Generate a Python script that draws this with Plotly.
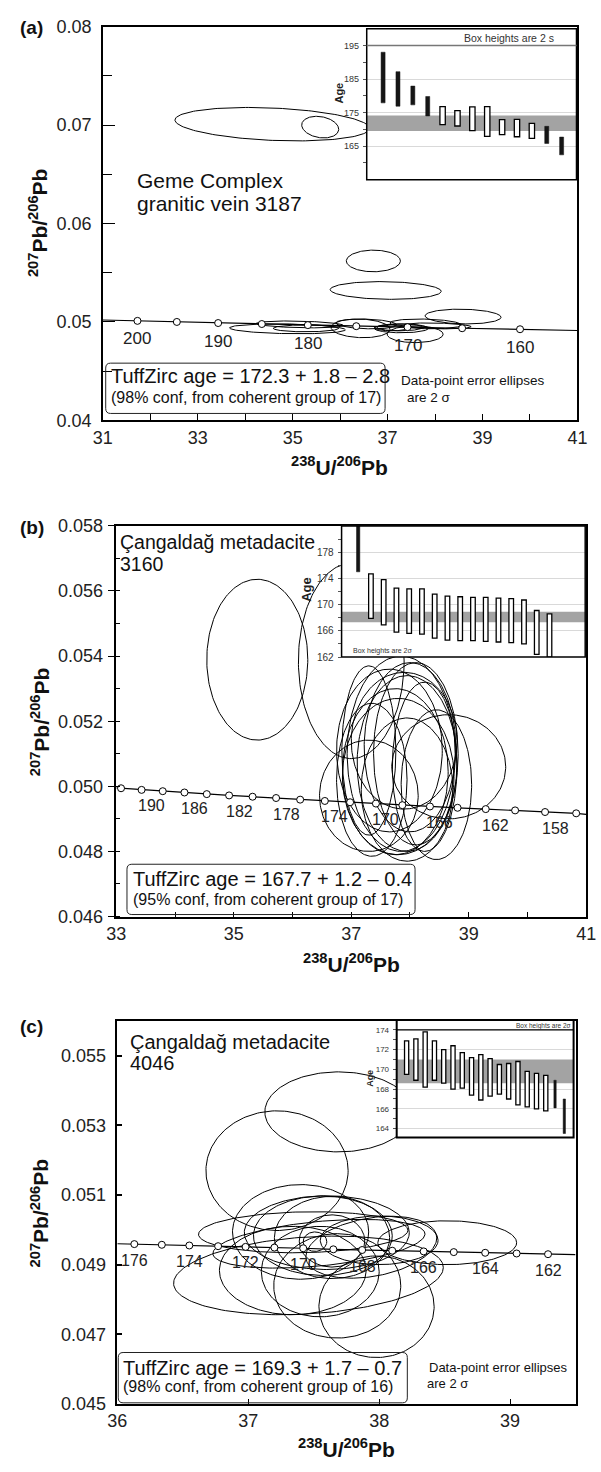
import numpy as np
import plotly.graph_objects as go

W, H = 601, 1472
FONT = "Liberation Sans, Arial, sans-serif"

# ================= DATA =================
# ---- panel (a) : Geme Complex granitic vein 3187 ----
a_conc_age = [200, 195, 190, 185, 180, 175, 170, 165, 160]
a_conc_x = [31.73, 32.56, 33.43, 34.35, 35.32, 36.34, 37.42, 38.57, 39.79]
a_conc_y = [0.05011, 0.05000, 0.04989, 0.04979, 0.04968, 0.04957, 0.04947, 0.04936, 0.04926]
a_conc_lbl = [200, 190, 180, 170, 160]
a_curve_end_x = [31.0, 41.0]
a_curve_end_y = [0.05020, 0.04913]
a_ell_cx = [34.57, 35.58, 36.70, 36.96, 38.59, 34.89, 35.28, 35.15, 36.43, 37.29, 37.58, 37.80, 37.09, 37.26, 38.05, 36.55]
a_ell_sx = [2.05, 0.39, 0.57, 1.17, 0.80, 1.22, 0.69, 0.92, 0.62, 0.57, 0.59, 0.75, 0.37, 0.48, 0.71, 0.64]
a_ell_cy = [0.0701, 0.0698, 0.0562, 0.0532, 0.05055, 0.0493, 0.04935, 0.04975, 0.04935, 0.04935, 0.04875, 0.0498, 0.0494, 0.04945, 0.0496, 0.0498]
a_ell_sy = [0.0017, 0.0011, 0.0011, 0.0009, 0.00075, 0.0005, 0.00035, 0.00035, 0.00095, 0.00045, 0.00085, 0.0005, 0.0003, 0.00035, 0.0003, 0.0005]
a_ell_rho = [-0.25, -0.2, 0.0, -0.1, -0.1, -0.2, 0.0, -0.3, -0.1, 0.0, 0.0, -0.2, 0.0, 0.0, -0.3, -0.2]
a_box_hi = [193.0, 187.2, 182.9, 179.8, 176.8, 175.6, 176.7, 176.8, 172.9, 173.0, 171.8, 170.9, 167.7]
a_box_lo = [177.9, 176.9, 177.3, 174.0, 171.4, 171.0, 169.6, 167.9, 168.4, 167.8, 167.3, 165.8, 162.4]
a_box_filled = [1, 1, 1, 1, 0, 0, 0, 0, 0, 0, 0, 1, 1]
a_band = [169.5, 174.1]
a_inset_ticks = [165, 175, 185, 195]
a_inset_minor = [160, 170, 180, 190]

# ---- panel (b) : Cangaldag metadacite 3160 ----
b_conc_age = [192, 190, 188, 186, 184, 182, 180, 178, 176, 174, 172, 170, 168, 166, 164, 162, 160, 158, 156]
b_conc_x = [33.08, 33.43, 33.79, 34.16, 34.54, 34.92, 35.32, 35.72, 36.13, 36.55, 36.98, 37.42, 37.87, 38.34, 38.81, 39.29, 39.79, 40.30, 40.83]
b_conc_y = [0.04994, 0.04989, 0.04985, 0.04981, 0.04976, 0.04972, 0.04968, 0.04964, 0.04959, 0.04955,
            0.04951, 0.04947, 0.04942, 0.04938, 0.04934, 0.04930, 0.04926, 0.04921, 0.04917]
b_conc_lbl = [190, 186, 182, 178, 174, 170, 166, 162, 158]
b_curve_end_x = [33.0, 41.0]
b_curve_end_y = [0.04995, 0.04914]
b_ell_cx = [35.40, 37.00, 37.30, 38.66, 37.95, 37.75, 37.85, 37.95, 37.80, 38.25, 37.65, 38.00, 37.35, 38.45, 38.10, 37.90, 37.30]
b_ell_sx = [0.86, 0.90, 0.84, 0.97, 0.78, 0.90, 0.92, 0.85, 0.95, 0.55, 0.90, 0.78, 0.60, 0.60, 0.72, 0.90, 0.46]
b_ell_cy = [0.05389, 0.05385, 0.04971, 0.05060, 0.04990, 0.05045, 0.05100, 0.05070, 0.05030, 0.05060, 0.05110, 0.05120, 0.05020, 0.05005, 0.05100, 0.05140, 0.05110]
b_ell_sy = [0.00247, 0.00300, 0.00171, 0.00160, 0.00220, 0.00255, 0.00300, 0.00270, 0.00240, 0.00260, 0.00250, 0.00260, 0.00235, 0.00230, 0.00280, 0.00210, 0.00260]
b_ell_rho = [0.0] * 17
b_box_hi = [186.0, 174.7, 173.8, 172.5, 172.4, 172.4, 171.6, 171.3, 171.2, 171.1, 171.1, 171.0, 170.9, 170.7, 169.1, 168.6]
b_box_lo = [175.0, 167.9, 166.9, 165.8, 165.6, 165.5, 164.9, 164.6, 164.5, 164.5, 164.4, 164.3, 164.2, 164.0, 162.4, 162.0]
b_box_filled = [1, 0, 0, 0, 0, 0, 0, 0, 0, 0, 0, 0, 0, 0, 0, 0]
b_band = [167.3, 168.9]
b_inset_ticks = [162, 166, 170, 174, 178]
b_inset_minor = [164, 168, 172, 176, 180]

# ---- panel (c) : Cangaldag metadacite 4046 ----
c_conc_age = [176, 175, 174, 173, 172, 171, 170, 169, 168, 167, 166, 165, 164, 163, 162]
c_conc_x = [36.13, 36.34, 36.55, 36.77, 36.98, 37.20, 37.42, 37.65, 37.87, 38.10, 38.34, 38.57, 38.81, 39.05, 39.29]
c_conc_y = [0.04959, 0.04957, 0.04955, 0.04953, 0.04951, 0.04949, 0.04947, 0.04944, 0.04942, 0.04940,
            0.04938, 0.04936, 0.04934, 0.04932, 0.04930]
c_conc_lbl = [176, 174, 172, 170, 168, 166, 164, 162]
c_curve_end_x = [36.0, 39.5]
c_curve_end_y = [0.04960, 0.04929]
c_ell_cx = [37.69, 37.22, 37.42, 37.46, 38.52, 37.98, 37.68, 37.34, 37.40, 37.60, 37.57, 37.64, 37.64, 37.51, 37.94, 37.54, 38.00, 37.55]
c_ell_sx = [0.563, 0.543, 0.80, 1.03, 0.53, 0.44, 0.485, 0.56, 0.52, 0.63, 0.53, 0.44, 0.25, 0.09, 0.50, 0.81, 0.45, 0.45]
c_ell_cy = [0.05339, 0.0517, 0.04993, 0.04869, 0.04963, 0.04779, 0.04839, 0.04883, 0.04994, 0.04992, 0.04983, 0.04978, 0.04968, 0.04966, 0.0495, 0.0496, 0.0497, 0.0488]
c_ell_sy = [0.00115, 0.00172, 0.00059, 0.00113, 0.00063, 0.00146, 0.0015, 0.00127, 0.00136, 0.00106, 0.00114, 0.00118, 0.00075, 0.00028, 0.00089, 0.0007, 0.0007, 0.0013]
c_ell_rho = [0.0, 0.0, 0.1, 0.2, 0.0, 0.0, 0.0, 0.0, 0.0, 0.0, 0.0, 0.0, 0.0, 0.0, 0.3, 0.4, 0.0, 0.0]
c_box_hi = [172.9, 173.1, 173.8, 172.9, 172.0, 172.4, 171.7, 171.2, 171.5, 171.1, 170.5, 170.6, 170.8, 169.8, 169.6, 169.4, 168.9, 167.0]
c_box_lo = [169.5, 168.9, 168.2, 168.9, 168.6, 168.0, 168.1, 167.4, 166.9, 167.3, 167.5, 167.0, 166.4, 166.2, 166.0, 165.8, 166.1, 163.5]
c_box_filled = [0, 0, 0, 0, 0, 0, 0, 0, 0, 0, 0, 0, 0, 0, 0, 0, 1, 1]
c_band = [168.6, 171.0]
c_inset_ticks = [164, 166, 168, 170, 172, 174]
c_inset_minor = [165, 167, 169, 171, 173]

# ================= HELPERS =================
def dom_x(p0, p1):
    return [p0 / W, p1 / W]


def dom_y(p_top, p_bot):
    return [1 - p_bot / H, 1 - p_top / H]


fig = go.Figure()


def add_ellipses(cxs, sxs, cys, sys_, rhos, xa, ya):
    X, Y = [], []
    t = np.linspace(0, 2 * np.pi, 181)
    for cx, sx, cy, sy, r in zip(cxs, sxs, cys, sys_, rhos):
        x = cx + sx * np.cos(t)
        y = cy + sy * (r * np.cos(t) + np.sqrt(1 - r * r) * np.sin(t))
        X += list(x) + [None]
        Y += list(y) + [None]
    fig.add_trace(go.Scatter(x=X, y=Y, mode="lines", line=dict(color="black", width=1),
                             xaxis=xa, yaxis=ya, hoverinfo="skip", showlegend=False))


def add_concordia(ages, cx_, cy_, endx, endy, lbls, xa, ya, msize, dx, dy, lfs):
    xs = [endx[0]] + list(cx_) + [endx[1]]
    ys = [endy[0]] + list(cy_) + [endy[1]]
    fig.add_trace(go.Scatter(x=xs, y=ys, mode="lines", line=dict(color="black", width=1.2),
                             xaxis=xa, yaxis=ya, hoverinfo="skip", showlegend=False))
    fig.add_trace(go.Scatter(x=cx_, y=cy_, mode="markers",
                             marker=dict(size=msize, color="white", line=dict(color="black", width=1)),
                             xaxis=xa, yaxis=ya, hoverinfo="skip", showlegend=False))
    for age in lbls:
        i = ages.index(age)
        fig.add_annotation(x=cx_[i], y=cy_[i], xref=xa, yref=ya, text=str(age), showarrow=False,
                           xshift=dx, yshift=dy, font=dict(family=FONT, size=lfs, color="#222"))


def add_inset(lo, hi, filled, band, xa, ya, xr, yr, w_open, w_fill):
    idx = list(range(1, len(lo) + 1))
    fig.add_shape(type="rect", xref=xa, yref=ya, x0=xr[0], x1=xr[1], y0=yr[0], y1=yr[1],
                  fillcolor="white", line=dict(width=0), layer="below")
    fig.add_shape(type="rect", xref=xa, yref=ya, x0=xr[0], x1=xr[1], y0=band[0], y1=band[1],
                  fillcolor="#a3a3a3", line=dict(width=0), layer="between")
    oi = [i for i, f in zip(idx, filled) if not f]
    ol = [l for l, f in zip(lo, filled) if not f]
    oh = [h - l for l, h, f in zip(lo, hi, filled) if not f]
    fi = [i for i, f in zip(idx, filled) if f]
    fl = [l for l, f in zip(lo, filled) if f]
    fh = [h - l for l, h, f in zip(lo, hi, filled) if f]
    if oi:
        fig.add_trace(go.Bar(x=oi, y=oh, base=ol, width=w_open,
                             marker=dict(color="white", line=dict(color="black", width=1.3)),
                             xaxis=xa, yaxis=ya, hoverinfo="skip", showlegend=False))
    if fi:
        fig.add_trace(go.Bar(x=fi, y=fh, base=fl, width=w_fill,
                             marker=dict(color="#151515", line=dict(color="#151515", width=0.5)),
                             xaxis=xa, yaxis=ya, hoverinfo="skip", showlegend=False))


def ann(text, px, py, size, xanchor="left", bold=False, angle=0, color="#111"):
    if bold:
        text = "<b>" + text + "</b>"
    fig.add_annotation(x=px / W, y=1 - py / H, xref="paper", yref="paper", text=text,
                       showarrow=False, xanchor=xanchor, yanchor="middle", textangle=angle,
                       font=dict(family=FONT, size=size, color=color))


def rrect(x0, y0, x1, y1, r):
    P = lambda x, y: f"{x / W:.5f},{1 - y / H:.5f}"
    return ("M" + P(x0 + r, y0) + " L" + P(x1 - r, y0) + " Q" + P(x1, y0) + " " + P(x1, y0 + r) +
            " L" + P(x1, y1 - r) + " Q" + P(x1, y1) + " " + P(x1 - r, y1) +
            " L" + P(x0 + r, y1) + " Q" + P(x0, y1) + " " + P(x0, y1 - r) +
            " L" + P(x0, y0 + r) + " Q" + P(x0, y0) + " " + P(x0 + r, y0) + " Z")


def main_axis(dom, rng, tick0, dtick, mdtick, ticks, tlen, mticks, mtlen, fmt=None, tfs=18, standoff=None, tw=1.2):
    d = dict(domain=dom, range=rng, tick0=tick0, dtick=dtick, ticks=ticks, ticklen=tlen,
             tickwidth=tw, tickcolor="black", showline=True, linecolor="black", linewidth=1.5,
             mirror=True, showgrid=False, zeroline=False,
             tickfont=dict(family=FONT, size=tfs, color="#222"))
    if mdtick:
        d["minor"] = dict(tick0=tick0, dtick=mdtick, ticks=mticks, ticklen=mtlen,
                          tickwidth=1.2, tickcolor="black", showgrid=False)
    if fmt:
        d["tickformat"] = fmt
    if standoff is not None:
        d["ticklabelstandoff"] = standoff
    return d


def inset_x(dom, rng):
    return dict(domain=dom, range=rng, showgrid=False, showticklabels=False, ticks="",
                zeroline=False, showline=False)


def inset_y(dom, rng, tv, mv, tfs):
    return dict(domain=dom, range=rng, tickvals=tv, ticks="outside", ticklen=3, tickwidth=1,
                tickcolor="#555", minor=dict(tickvals=mv, ticks="outside", ticklen=3, tickcolor="#555"),
                showgrid=True, gridcolor="#d9d9d9", gridwidth=1, zeroline=False, showline=False,
                tickfont=dict(family=FONT, size=tfs, color="#333"), ticklabelstandoff=2)


# ================= PANEL (a) =================
add_ellipses(a_ell_cx, a_ell_sx, a_ell_cy, a_ell_sy, a_ell_rho, "x", "y")
add_concordia(a_conc_age, a_conc_x, a_conc_y, a_curve_end_x, a_curve_end_y, a_conc_lbl, "x", "y", 7, 0, -18, 17)
A2X, A2Y = [-0.1, 14.0], [155, 200]
add_inset(a_box_lo, a_box_hi, a_box_filled, a_band, "x2", "y2", A2X, A2Y, 0.36, 0.27)

# ================= PANEL (b) =================
add_ellipses(b_ell_cx, b_ell_sx, b_ell_cy, b_ell_sy, b_ell_rho, "x3", "y3")
add_concordia(b_conc_age, b_conc_x, b_conc_y, b_curve_end_x, b_curve_end_y, b_conc_lbl, "x3", "y3", 7, 10, -16, 16)
B2X, B2Y = [-0.3, 18.8], [162, 182]
add_inset(b_box_lo, b_box_hi, b_box_filled, b_band, "x4", "y4", B2X, B2Y, 0.36, 0.26)

# ================= PANEL (c) =================
add_ellipses(c_ell_cx, c_ell_sx, c_ell_cy, c_ell_sy, c_ell_rho, "x5", "y5")
add_concordia(c_conc_age, c_conc_x, c_conc_y, c_curve_end_x, c_curve_end_y, c_conc_lbl, "x5", "y5", 7, 0, -16, 16)
C2X, C2Y = [-0.07, 19.0], [163.1, 175.0]
add_inset(c_box_lo, c_box_hi, c_box_filled, c_band, "x6", "y6", C2X, C2Y, 0.45, 0.25)

fig.update_layout(
    width=W, height=H, margin=dict(l=0, r=0, t=0, b=0),
    paper_bgcolor="white", plot_bgcolor="white", showlegend=False, barmode="overlay",
    xaxis=dict(main_axis(dom_x(96, 587), [31, 41], 31, 2, 1, "inside", 7, "inside", 7), anchor="y"),
    yaxis=dict(main_axis(dom_y(17, 416), [0.04, 0.08], 0.04, 0.01, 0.005, "inside", 12, "inside", 9, ".2f", standoff=6), anchor="x"),
    xaxis2=dict(inset_x(dom_x(369, 586), A2X), anchor="y2"),
    yaxis2=dict(inset_y(dom_y(19, 172), A2Y, a_inset_ticks, a_inset_minor, 9), anchor="x2"),
    xaxis3=dict(main_axis(dom_x(110, 596), [33, 41], 33, 2, 1, "inside", 5, "inside", 5), anchor="y3"),
    yaxis3=dict(main_axis(dom_y(523, 919), [0.046, 0.058], 0.046, 0.002, 0.001, "outside", 7, "inside", 4, ".3f", standoff=1), anchor="x3"),
    xaxis4=dict(inset_x(dom_x(343, 595), B2X), anchor="y4"),
    yaxis4=dict(inset_y(dom_y(523, 656), B2Y, b_inset_ticks, b_inset_minor, 10), anchor="x4"),
    xaxis5=dict(main_axis(dom_x(111, 585), [36, 39.5], 36, 1, None, "inside", 5, "", 0), anchor="y5"),
    yaxis5=dict(main_axis(dom_y(1025, 1413), [0.045, 0.056], 0.045, 0.002, None, "inside", 5, "", 0, ".3f", standoff=6, tw=2), anchor="x5"),
    xaxis6=dict(inset_x(dom_x(400, 583), C2X), anchor="y6"),
    yaxis6=dict(inset_y(dom_y(1024, 1143), C2Y, c_inset_ticks, c_inset_minor, 8), anchor="x6"),
)

# inset borders and strip lines
for (x0, y0, x1, y1, lw) in [(369, 19, 586, 172, 1.5), (343, 523, 595, 656, 1.5), (400, 1024, 583, 1143, 2)]:
    fig.add_shape(type="rect", xref="paper", yref="paper", x0=x0 / W, x1=x1 / W, y0=1 - y1 / H, y1=1 - y0 / H,
                  line=dict(color="black", width=lw), layer="above")
fig.add_shape(type="line", xref="x2 domain", yref="y2", x0=0, x1=1, y0=195, y1=195,
              line=dict(color="#777", width=1.5), layer="above")
fig.add_shape(type="line", xref="x6 domain", yref="y6", x0=0, x1=1, y0=174, y1=174,
              line=dict(color="black", width=1.2), layer="above")

# TuffZirc boxes
for (x0, y0, x1, y1) in [(99, 358, 388, 409), (121, 866, 419, 917), (112, 1361, 411, 1412)]:
    fig.add_shape(type="path", xref="paper", yref="paper", path=rrect(x0, y0, x1, y1, 5),
                  line=dict(color="#222", width=1), layer="above")

# ---- texts ----
ann("(a)", 8, 18, 19, bold=True)
ann("(b)", 8, 525, 19, bold=True)
ann("(c)", 8, 1031, 19, bold=True)

ytitle = "<sup>207</sup>Pb/<sup>206</sup>Pb"
xtitle = "<sup>238</sup>U/<sup>206</sup>Pb"
ann(ytitle, 29, 216, 21, xanchor="center", bold=True, angle=-90)
ann(ytitle, 31, 721, 21, xanchor="center", bold=True, angle=-90)
ann(ytitle, 31, 1219, 21, xanchor="center", bold=True, angle=-90)
ann(xtitle, 341, 462, 21, xanchor="center", bold=True)
ann(xtitle, 353, 966, 21, xanchor="center", bold=True)
ann(xtitle, 348, 1458, 21, xanchor="center", bold=True)

ann("Geme Complex", 129, 173, 21)
ann("granitic vein 3187", 129, 196, 21)
ann("Çangaldağ metadacite", 112, 539, 19.5)
ann("3160", 112, 562, 19.5)
ann("Çangaldağ metadacite", 122, 1046, 20)
ann("4046", 122, 1068, 20)

ann("TuffZirc age = 172.3 + 1.8 – 2.8", 102, 371, 20)
ann("(98% conf, from coherent group of 17)", 102, 393, 16)
ann("TuffZirc age = 167.7 + 1.2 – 0.4", 125, 881, 20)
ann("(95% conf, from coherent group of 17)", 125, 902, 16)
ann("TuffZirc age = 169.3 + 1.7 – 0.7", 115, 1377, 20)
ann("(98% conf, from coherent group of 16)", 115, 1395, 16)

ann("Data-point error ellipses", 402, 376, 13.5)
ann("are 2 σ", 409, 393, 13.5)
ann("Data-point error ellipses", 431, 1376, 13)
ann("are 2 σ", 429, 1392, 13)

ann("Box heights are 2 s", 516, 28, 10.5, xanchor="center", color="#333")
ann("Box heights are 2σ", 353, 650, 7, color="#333")
ann("Box heights are 2σ", 582, 1030, 6.5, xanchor="right", color="#333")

ann("Age", 340, 84, 11, xanchor="center", bold=True, angle=-90, color="#222")
ann("Age", 306, 587, 13, xanchor="center", bold=True, angle=-90, color="#222")
ann("Age", 373, 1083, 9, xanchor="center", bold=True, angle=-90, color="#222")

fig.write_html("out.html")
